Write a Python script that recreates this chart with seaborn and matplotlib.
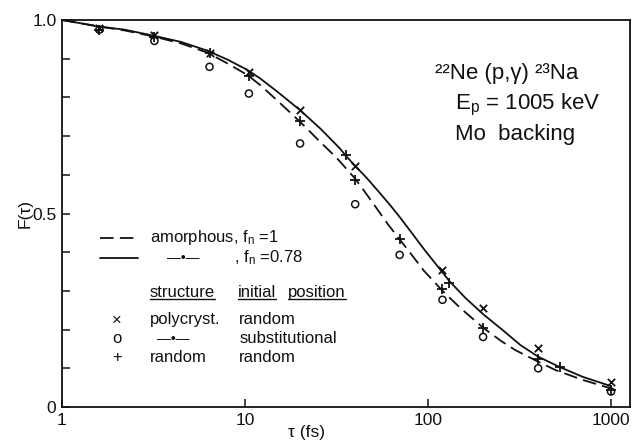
import matplotlib
matplotlib.use("Agg")
import matplotlib.pyplot as plt
import pandas as pd
import seaborn as sns
from matplotlib.ticker import FixedLocator, FixedFormatter, NullLocator

# Calculated attenuation curves F(tau), amorphous stopping model
tau_fn1 = [1.0, 1.6, 2.2, 3.2, 4.5, 6.2, 8.0, 10.3, 12.1, 15.0, 20.0, 26.0,
           31.5, 40.0, 45.0, 50.0, 60.0, 70.0, 80.0, 95.0, 119.0, 150.0,
           200.0, 250.0, 300.0, 400.0, 500.0, 700.0, 1000.0]
F_fn1 = [1.000, 0.983, 0.973, 0.957, 0.939, 0.916, 0.888, 0.858, 0.832, 0.792,
         0.737, 0.683, 0.645, 0.590, 0.557, 0.527, 0.474, 0.433, 0.398, 0.352,
         0.302, 0.256, 0.205, 0.171, 0.147, 0.117, 0.095, 0.070, 0.048]

tau_fn078 = [1.0, 1.6, 2.2, 3.2, 4.5, 6.2, 8.0, 10.3, 12.1, 15.0, 20.0, 26.0,
             33.0, 35.6, 40.0, 46.0, 52.5, 62.0, 70.0, 80.0, 95.0, 119.0,
             131.0, 160.0, 200.0, 260.0, 320.0, 400.0, 526.0, 700.0, 1000.0]
F_fn078 = [1.000, 0.983, 0.975, 0.959, 0.943, 0.921, 0.898, 0.871, 0.849, 0.815,
           0.767, 0.718, 0.668, 0.649, 0.623, 0.593, 0.562, 0.522, 0.491, 0.455,
           0.408, 0.350, 0.325, 0.282, 0.240, 0.196, 0.160, 0.130, 0.103, 0.078,
           0.054]

# Measured attenuation factors
tau_poly = [1.6, 3.2, 6.4, 10.5, 20, 40, 120, 200, 400, 1000]
F_poly = [0.980, 0.960, 0.915, 0.866, 0.767, 0.623, 0.354, 0.255, 0.152, 0.065]

tau_subst = [1.6, 3.2, 6.4, 10.5, 20, 40, 70, 120, 200, 400, 1000]
F_subst = [0.975, 0.946, 0.879, 0.810, 0.681, 0.524, 0.393, 0.277, 0.181,
           0.100, 0.040]

tau_rand = [1.6, 3.2, 6.4, 10.5, 20, 35.6, 40, 70, 120, 131, 200, 400, 526, 1000]
F_rand = [0.975, 0.955, 0.915, 0.855, 0.739, 0.651, 0.587, 0.434, 0.306, 0.320,
          0.205, 0.123, 0.103, 0.045]

x_ticks = [1, 10, 100, 1000]
x_ticklabels = ["1", "10", "100", "1000"]
y_ticks = [0.0, 0.1, 0.2, 0.3, 0.4, 0.5, 0.6, 0.7, 0.8, 0.9, 1.0]
y_ticklabels = ["0", "", "", "", "", "0.5", "", "", "", "", "1.0"]

sns.set_theme(style="ticks")
plt.rcParams["font.family"] = ["Liberation Sans", "DejaVu Sans"]
plt.rcParams["mathtext.fontset"] = "custom"
plt.rcParams["mathtext.rm"] = "Liberation Sans"
plt.rcParams["mathtext.it"] = "Liberation Sans:italic"

INK = "#111111"
DASH = (0, (7.5, 3.5))

fig = plt.figure(figsize=(6.33, 4.41), dpi=100)
fig.patch.set_facecolor("white")
ax = fig.add_axes([62 / 633, 34 / 441, 568 / 633, 387 / 441])

curve_fn1 = pd.DataFrame({"tau": tau_fn1, "F": F_fn1})
curve_fn078 = pd.DataFrame({"tau": tau_fn078, "F": F_fn078})

sns.lineplot(data=curve_fn1, x="tau", y="F", ax=ax, color=INK, lw=1.3,
             estimator=None, sort=False, linestyle=DASH)
sns.lineplot(data=curve_fn078, x="tau", y="F", ax=ax, color=INK, lw=1.3,
             estimator=None, sort=False)

pts_poly = pd.DataFrame({"tau": tau_poly, "F": F_poly})
pts_subst = pd.DataFrame({"tau": tau_subst, "F": F_subst})
pts_rand = pd.DataFrame({"tau": tau_rand, "F": F_rand})

sns.scatterplot(data=pts_poly, x="tau", y="F", ax=ax, marker="x", s=28,
                color=INK, linewidth=1.3, zorder=5)
sns.scatterplot(data=pts_subst, x="tau", y="F", ax=ax, marker="o", s=26,
                facecolor="none", edgecolor=INK, linewidth=1.1, zorder=5)
sns.scatterplot(data=pts_rand, x="tau", y="F", ax=ax, marker="+", s=45,
                color=INK, linewidth=1.3, zorder=5)

ax.set_xscale("log")
ax.set_xlim(1, 1270)
ax.set_ylim(0, 1.0)
ax.xaxis.set_major_locator(FixedLocator(x_ticks))
ax.xaxis.set_major_formatter(FixedFormatter(x_ticklabels))
ax.xaxis.set_minor_locator(NullLocator())
ax.yaxis.set_major_locator(FixedLocator(y_ticks))
ax.yaxis.set_major_formatter(FixedFormatter(y_ticklabels))
ax.yaxis.set_minor_locator(NullLocator())
ax.tick_params(axis="both", direction="in", length=6, width=1.1, colors=INK,
               labelsize=12.5, pad=4)
for side in ["top", "right", "bottom", "left"]:
    ax.spines[side].set_visible(True)
    ax.spines[side].set_linewidth(1.3)
    ax.spines[side].set_color(INK)
ax.set_xlabel("τ (fs)", fontsize=12.5, color=INK)
ax.xaxis.label.set_va("center")
ax.xaxis.set_label_coords(0.43, -0.066)
ax.set_ylabel("F(τ)", fontsize=12.5, color=INK)
ax.yaxis.label.set_va("center")
ax.yaxis.set_label_coords(-0.065, 0.5)
ax.grid(False)

# Reaction annotation
tr = ax.transAxes
ax.text(0.657, 0.863, "²²Ne (p,γ) ²³Na", transform=tr, fontsize=16,
        color=INK, va="center", ha="left")
ax.text(0.692, 0.780, r"$\mathregular{E_p}$ = 1005 keV", transform=tr,
        fontsize=16, color=INK, va="center", ha="left")
ax.text(0.692, 0.703, "Mo  backing", transform=tr, fontsize=16, color=INK,
        va="center", ha="left")

# Key for the curves
fs_key = 12
ax.plot([0.067, 0.134], [0.437, 0.437], transform=tr, color=INK, lw=1.3,
        linestyle=DASH)
ax.text(0.155, 0.437, r"amorphous, $\mathregular{f_n}$ =1", transform=tr,
        fontsize=fs_key, color=INK, va="center", ha="left")
ax.plot([0.067, 0.134], [0.385, 0.385], transform=tr, color=INK, lw=1.3)
ax.text(0.185, 0.385, "—•—", transform=tr, fontsize=fs_key - 2, color=INK,
        va="center", ha="left")
ax.text(0.302, 0.385, r", $\mathregular{f_n}$ =0.78", transform=tr,
        fontsize=fs_key, color=INK, va="center", ha="left")

# Key for the measured points
hdr_struct = ax.text(0.155, 0.284, "structure", transform=tr, fontsize=fs_key,
                     color=INK, va="baseline", ha="left")
hdr_init = ax.text(0.310, 0.284, "initial", transform=tr, fontsize=fs_key,
                   color=INK, va="baseline", ha="left")
hdr_pos = ax.text(0.398, 0.284, "position", transform=tr, fontsize=fs_key,
                  color=INK, va="baseline", ha="left")

rows = [("×", "polycryst.", "random", 0.225),
        ("o", "—•—", "substitutional", 0.176),
        ("+", "random", "random", 0.127)]
for sym, struct, init, yy in rows:
    ax.text(0.097, yy, sym, transform=tr, fontsize=fs_key, color=INK,
            va="center", ha="center")
    if struct.startswith("—"):
        ax.text(0.167, yy, struct, transform=tr, fontsize=fs_key - 2,
                color=INK, va="center", ha="left")
    else:
        ax.text(0.155, yy, struct, transform=tr, fontsize=fs_key, color=INK,
                va="center", ha="left")
    ax.text(0.312, yy, init, transform=tr, fontsize=fs_key, color=INK,
            va="center", ha="left")

# Underline the column headers
fig.canvas.draw()
renderer = fig.canvas.get_renderer()
inv = ax.transAxes.inverted()
for t in (hdr_struct, hdr_init, hdr_pos):
    bb = t.get_window_extent(renderer)
    (x0, y0), (x1, _) = inv.transform([[bb.x0, bb.y0], [bb.x1, bb.y0]])
    ax.plot([x0, x1], [y0 + 0.004, y0 + 0.004], transform=tr, color=INK,
            lw=1.0, clip_on=False)

fig.savefig("out.png", dpi=100, facecolor="white")
